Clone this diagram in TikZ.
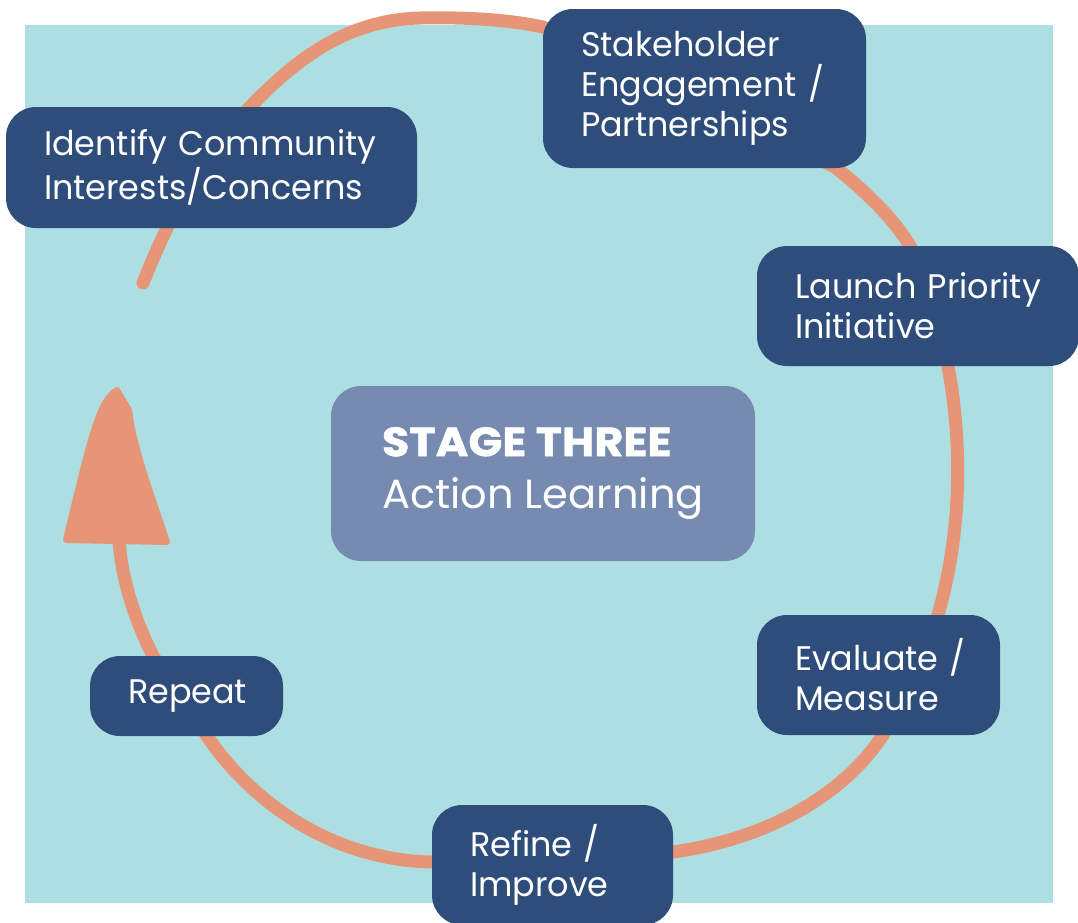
\documentclass[tikz,border=0pt]{standalone}
\usepackage{fontspec}
\setmainfont{Poppins}
\newfontfamily\stepfont{Poppins}[FakeStretch=0.98]
\newfontfamily\hubfont{Poppins}[FakeStretch=1.02]
\newfontfamily\hubbold{Poppins}[FakeStretch=1.09, FakeBold=1.2]
\usetikzlibrary{backgrounds}
\definecolor{stepblue}{HTML}{2E4D7B}
\definecolor{hubblue}{HTML}{778BB0}
\definecolor{panel}{HTML}{ADDEE2}
\definecolor{loopline}{HTML}{E69677}
\begin{document}
\begin{tikzpicture}[x=0.1mm, y=-0.1mm,
    stagebox/.style={rounded corners=3mm, fill=stepblue, text=white, align=left, inner xsep=3.8mm, inner ysep=0pt, font=\stepfont\fontsize{9.7}{11.4}\selectfont, execute at begin node={\hyphenpenalty=10000\exhyphenpenalty=10000}},
    hub/.style={rounded corners=3mm, fill=hubblue, text=white, align=left, inner xsep=5mm, inner ysep=0pt, font=\hubfont\fontsize{11.6}{15}\selectfont},
    cycleline/.style={draw=loopline, line width=1.3mm, line cap=round, line join=round},
    tiphead/.style={fill=loopline, draw=loopline, line width=0.6mm, line join=round}]
  \useasboundingbox (0,0) rectangle (1078,922);
  \node[stagebox, text width=33.5mm, minimum height=12.1mm] (identify) at (211.5,167.5) {Identify~Community\\Interests/Concerns};
  \node[stagebox, text width=24.7mm, minimum height=15.9mm] (stakeholder) at (704.5,88.5) {Stakeholder\\Engagement~/\\Partnerships};
  \node[stagebox, text width=24.6mm, minimum height=12mm] (launch) at (918,306) {Launch~Priority\\Initiative};
  \node[stagebox, text width=16.7mm, minimum height=12mm] (evaluate) at (878.5,675) {Evaluate~/\\Measure};
  \node[stagebox, text width=16.5mm, minimum height=12mm] (refine) at (552.5,865) {Refine~/\\Improve};
  \node[stagebox, text width=11.7mm, minimum height=8mm] (repeat) at (186.5,696) {Repeat};
  \node[hub, minimum width=42.4mm, minimum height=17.5mm] (stage) at (543,473.5) {{\hubbold\bfseries STAGE THREE}\\Action Learning};
  \begin{scope}[on background layer]
    \fill[panel] (25,25) rectangle (1053,903);
    % the cycle runs clockwise behind the boxes and ends in the hand-drawn tip
    \draw[cycleline] (143,283) .. controls (170,215) and (200,160) .. (250,107)
      .. controls (300,55) and (350,20) .. (420,18) .. controls (470,17) and (510,20) .. (543,27)
      -- (835,167) .. controls (870,195) and (900,225) .. (915,255) -- (948,366)
      .. controls (960,430) and (965,520) .. (938,615) -- (883,735)
      .. controls (840,800) and (760,840) .. (673,852) -- (432,862)
      .. controls (330,860) and (250,800) .. (207,736) -- (153,656)
      .. controls (130,610) and (121,570) .. (119,540) -- (118,420);
    \filldraw[tiphead] (117,390) .. controls (100,400) and (92,430) .. (66,540) -- (167,542) .. controls (150,490) and (134,450) .. (129,410) -- cycle;
  \end{scope}
\end{tikzpicture}
\end{document}
